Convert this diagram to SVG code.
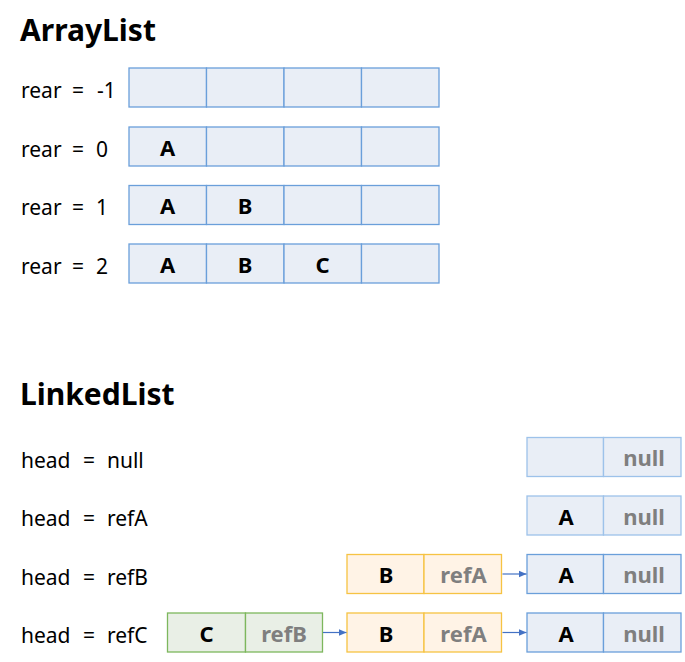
<svg xmlns="http://www.w3.org/2000/svg" width="685" height="662" viewBox="0 0 685 662">
<style>
.t{font-family:"Noto Sans","Liberation Sans",sans-serif;font-weight:bold;font-size:30px;fill:#000}
.l{font-family:"Noto Sans","Liberation Sans",sans-serif;font-size:21px;fill:#000}
.v{font-family:"Noto Sans","Liberation Sans",sans-serif;font-weight:bold;font-size:22px;fill:#000;text-anchor:middle}
.g{font-family:"Noto Sans","Liberation Sans",sans-serif;font-weight:bold;font-size:22px;fill:#7f7f7f;text-anchor:middle}
.cb{fill:#e9eef6;stroke:#6a9fda;stroke-width:1.3}
.cbl{fill:#e9eef6;stroke:#9dc2ea;stroke-width:1.3}
.co{fill:#fff3e6;stroke:#f6c343;stroke-width:1.3}
.cg{fill:#e9efe6;stroke:#7db75d;stroke-width:1.3}
.ar{stroke:#4472c4;stroke-width:1.2;fill:none;marker-end:url(#ah)}
</style>
<defs>
<marker id="ah" markerWidth="8" markerHeight="8" refX="8" refY="4" orient="auto" markerUnits="userSpaceOnUse">
<path d="M0,0.5 L8,4 L0,7.5 Z" fill="#4472c4"/>
</marker>
</defs>
<rect width="685" height="662" fill="#fff"/>
<text class="t" x="20" y="41">ArrayList</text>
<text class="t" x="20" y="405">LinkedList</text>

<g id="array-row1">
<text class="l" y="98"><tspan x="21">rear</tspan><tspan x="72">=</tspan><tspan x="97">-1</tspan></text>
<rect class="cb" x="129" y="68" width="77.5" height="39"/>
<rect class="cb" x="206.5" y="68" width="77.5" height="39"/>
<rect class="cb" x="284" y="68" width="77.5" height="39"/>
<rect class="cb" x="361.5" y="68" width="77.5" height="39"/>
</g>
<g id="array-row2">
<text class="l" y="156.5"><tspan x="21">rear</tspan><tspan x="72">=</tspan><tspan x="96">0</tspan></text>
<rect class="cb" x="129" y="127" width="77.5" height="39"/>
<rect class="cb" x="206.5" y="127" width="77.5" height="39"/>
<rect class="cb" x="284" y="127" width="77.5" height="39"/>
<rect class="cb" x="361.5" y="127" width="77.5" height="39"/>
<text class="v" x="167.5" y="155.5">A</text>
</g>
<g id="array-row3">
<text class="l" y="215"><tspan x="21">rear</tspan><tspan x="72">=</tspan><tspan x="96">1</tspan></text>
<rect class="cb" x="129" y="185.5" width="77.5" height="39"/>
<rect class="cb" x="206.5" y="185.5" width="77.5" height="39"/>
<rect class="cb" x="284" y="185.5" width="77.5" height="39"/>
<rect class="cb" x="361.5" y="185.5" width="77.5" height="39"/>
<text class="v" x="167.5" y="214">A</text>
<text class="v" x="245" y="214">B</text>
</g>
<g id="array-row4">
<text class="l" y="273.5"><tspan x="21">rear</tspan><tspan x="72">=</tspan><tspan x="96">2</tspan></text>
<rect class="cb" x="129" y="244" width="77.5" height="39"/>
<rect class="cb" x="206.5" y="244" width="77.5" height="39"/>
<rect class="cb" x="284" y="244" width="77.5" height="39"/>
<rect class="cb" x="361.5" y="244" width="77.5" height="39"/>
<text class="v" x="167.5" y="272.5">A</text>
<text class="v" x="245" y="272.5">B</text>
<text class="v" x="322.5" y="272.5">C</text>
</g>

<g id="linked-row1">
<text class="l" y="467.5"><tspan x="21">head</tspan><tspan x="83">=</tspan><tspan x="107">null</tspan></text>
<rect class="cbl" x="527" y="437.5" width="76.5" height="39"/>
<rect class="cbl" x="603.5" y="437.5" width="77.5" height="39"/>
<text class="g" x="644" y="466">null</text>
</g>
<g id="linked-row2">
<text class="l" y="526"><tspan x="21">head</tspan><tspan x="83">=</tspan><tspan x="107">refA</tspan></text>
<rect class="cbl" x="527" y="496" width="76.5" height="39"/>
<rect class="cbl" x="603.5" y="496" width="77.5" height="39"/>
<text class="v" x="566" y="524.5">A</text>
<text class="g" x="644" y="524.5">null</text>
</g>
<g id="linked-row3">
<text class="l" y="584.5"><tspan x="21">head</tspan><tspan x="83">=</tspan><tspan x="107">refB</tspan></text>
<rect class="co" x="347" y="554.5" width="77" height="39"/>
<rect class="co" x="424" y="554.5" width="77.5" height="39"/>
<text class="v" x="386" y="583">B</text>
<text class="g" x="463.5" y="583">refA</text>
<rect class="cb" x="527" y="554.5" width="76.5" height="39"/>
<rect class="cb" x="603.5" y="554.5" width="77.5" height="39"/>
<text class="v" x="566" y="583">A</text>
<text class="g" x="644" y="583">null</text>
</g>
<g id="linked-row4">
<text class="l" y="643"><tspan x="21">head</tspan><tspan x="83">=</tspan><tspan x="107">refC</tspan></text>
<rect class="cg" x="167.5" y="613" width="78" height="39"/>
<rect class="cg" x="245.5" y="613" width="77" height="39"/>
<text class="v" x="206.5" y="641.5">C</text>
<text class="g" x="284" y="641.5">refB</text>
<rect class="co" x="347" y="613" width="77" height="39"/>
<rect class="co" x="424" y="613" width="77.5" height="39"/>
<text class="v" x="386" y="641.5">B</text>
<text class="g" x="463.5" y="641.5">refA</text>
<rect class="cb" x="527" y="613" width="76.5" height="39"/>
<rect class="cb" x="603.5" y="613" width="77.5" height="39"/>
<text class="v" x="566" y="641.5">A</text>
<text class="g" x="644" y="641.5">null</text>
</g>

<g id="connectors">
<line class="ar" x1="502.5" y1="574" x2="526.5" y2="574"/>
<line class="ar" x1="323" y1="632.5" x2="346.5" y2="632.5"/>
<line class="ar" x1="502.5" y1="632.5" x2="526.5" y2="632.5"/>
</g>
</svg>
